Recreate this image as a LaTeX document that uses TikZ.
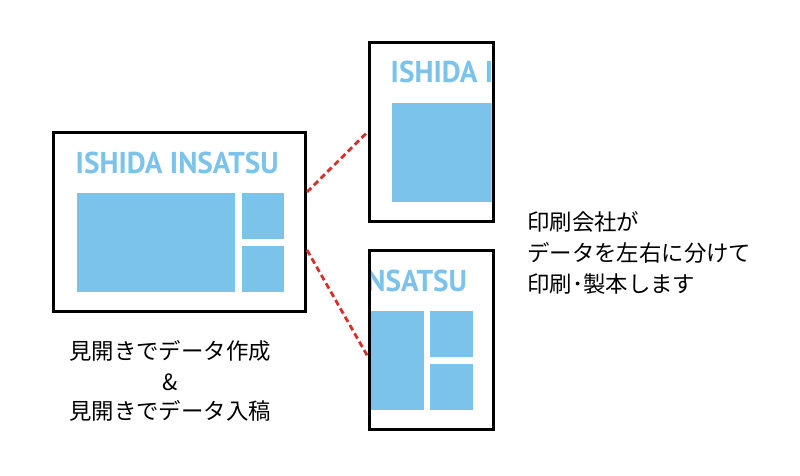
\documentclass[tikz,border=0pt]{standalone}
\usepackage{fontspec}
\setmainfont{PT Sans}
\newfontfamily\jpfont{Noto Sans CJK JP}
\usetikzlibrary{calc}
\definecolor{pageblue}{RGB}{124,195,236}
\definecolor{dashred}{RGB}{214,48,40}
\tikzset{
  frame/.style={draw=black, line width=3pt},
  bluebox/.style={fill=pageblue, draw=none},
  cutline/.style={draw=dashred, line width=2.8pt, dash pattern=on 6pt off 3.6pt},
  jptext/.style={font=\jpfont\fontsize{22.4}{26}\selectfont, inner sep=0pt, text=black},
  titletext/.style={inner sep=0pt, text=pageblue, anchor=base west}
}
\newcommand{\spreadcontent}[1]{%
  \node[titletext] (#1title) at (75.5,173) {\resizebox{203pt}{21.5pt}{\bfseries ISHIDA INSATSU}};
  \fill[bluebox] (77.3,192.7) rectangle (235.3,292);
  \fill[bluebox] (241.7,192.7) rectangle (284.3,239);
  \fill[bluebox] (241.7,245.7) rectangle (284.3,292);
}
\begin{document}
\begin{tikzpicture}[x=1pt,y=-1pt]
\useasboundingbox (0,0) rectangle (800,476);
\fill[white] (0,0) rectangle (800,476);

% spread
\spreadcontent{s}
\node[frame, minimum width=252pt, minimum height=179pt, inner sep=0pt] (spread) at (179.5,222) {};

% top page: left half
\begin{scope}
  \clip (370.3,44.3) rectangle (491.7,219.7);
  \begin{scope}[shift={(315,-90)}]
    \spreadcontent{t}
  \end{scope}
\end{scope}
\node[frame, minimum width=124pt, minimum height=178pt, inner sep=0pt] (pagetop) at (431,132) {};

% bottom page: right half
\begin{scope}
  \clip (370.3,251.8) rectangle (491.7,427.7);
  \begin{scope}[shift={(188.2,118.3)}]
    \spreadcontent{b}
  \end{scope}
\end{scope}
\node[frame, minimum width=124pt, minimum height=178.5pt, inner sep=0pt] (pagebot) at (431,339.75) {};

% connectors
\coordinate (s1) at (spread.east |- 0,192);
\coordinate (s2) at (spread.east |- 0,250);
\coordinate (p1) at (pagetop.west |- 0,132);
\coordinate (p2) at (pagebot.west |- 0,356);
\draw[cutline] (s1) -- (p1);
\draw[cutline] (s2) -- (p2);

% captions
\node[jptext, anchor=base] (l1) at (170,359.5) {見開きでデータ作成};
\node[jptext, anchor=base] (l2) at (170,390) {\&};
\node[jptext, anchor=base] (l3) at (170,419) {見開きでデータ入稿};

\node[jptext, anchor=base west] (r1) at (527,230.5) {印刷会社が};
\node[jptext, anchor=base west] (r2) at (527,261.5) {データを左右に分けて};
\node[jptext, anchor=base west] (r3) at (527,292.5) {印刷･製本します};
\end{tikzpicture}
\end{document}
